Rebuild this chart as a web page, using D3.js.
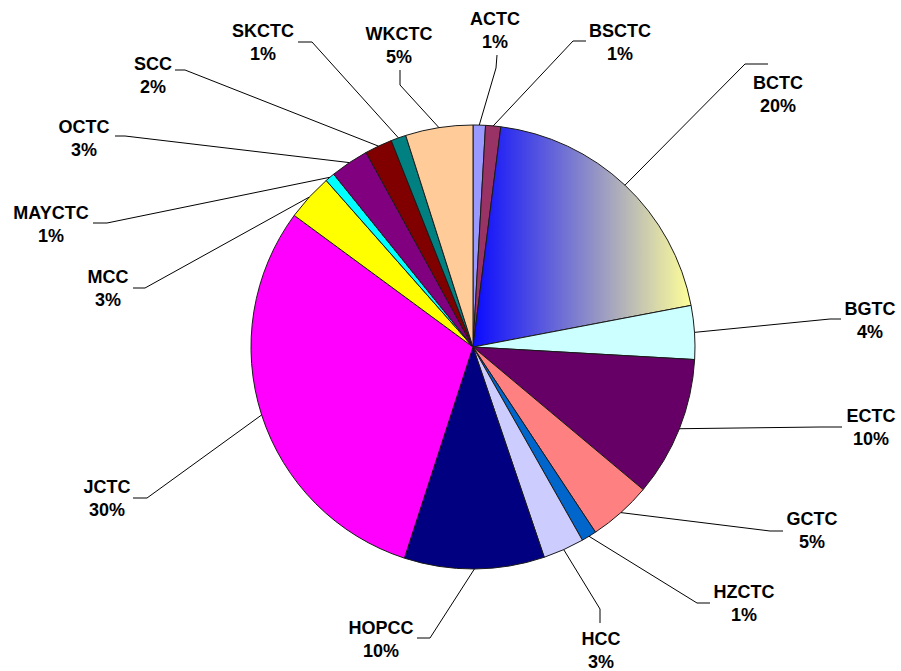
<!DOCTYPE html>
<html>
<head>
<meta charset="utf-8">
<script src="https://cdn.jsdelivr.net/npm/d3@7"></script>
<style>
  body { margin: 0; background: #fff; }
  text { font-family: "Liberation Sans", Arial, sans-serif; font-weight: bold; font-size: 18px; fill: #000; }
</style>
</head>
<body>
<script>
// slice names, clockwise from 12 o'clock
var names = ["ACTC","BSCTC","BCTC","BGTC","ECTC","GCTC","HZCTC","HCC","HOPCC","JCTC","MCC","MAYCTC","OCTC","SCC","SKCTC","WKCTC"];
// share of total (%)
var values = [0.9, 1.1, 20.0, 3.9, 10.2, 4.6, 1.1, 3.0, 10.2, 30.1, 3.4, 0.7, 2.8, 2.0, 1.1, 4.9];
var colors = ["#9999ff","#993366","url(#bctcGrad)","#ccffff","#660066","#ff8080","#0066cc","#ccccff","#000080","#ff00ff","#ffff00","#00ffff","#800080","#800000","#008080","#ffcc99"];

// label placement: [text x, first baseline y, elbow x, elbow y, end x, end y]
var labelLayout = [
  [495, 25, 496, 68, 497, 55],
  [620, 37, 573, 41, 586, 41],
  [778, 89, 745, 64, 768, 64],
  [870, 315, 830, 319, 841, 319],
  [871, 422, 820, 427, 842, 427],
  [812, 525, 770, 531, 783, 531],
  [744, 598, 697, 603, 710, 603],
  [601, 645, 600, 609, 600, 623],
  [381, 634, 430, 638, 417, 638],
  [107, 493, 147, 498, 133, 498],
  [108, 283, 145, 288, 133, 288],
  [51, 219, 107, 223, 93, 223],
  [84, 133, 125, 136, 115, 136],
  [153, 70, 185, 70, 175, 70],
  [263, 37, 312, 42, 298, 42],
  [399, 40, 400, 85, 400, 70]
];

var w = 901, h = 671;
var cx = 473, cy = 347, radius = 222;

var svg = d3.select("body").append("svg")
  .attr("width", w)
  .attr("height", h);

var grad = svg.append("defs").append("linearGradient")
  .attr("id", "bctcGrad")
  .attr("x1", "0").attr("y1", "0")
  .attr("x2", "1").attr("y2", "0");
grad.append("stop").attr("offset", "0%").attr("stop-color", "#0a0aff");
grad.append("stop").attr("offset", "100%").attr("stop-color", "#ffff99");

var pie = d3.pie().sort(null).value(function(d){ return d; });
var arc = d3.arc().innerRadius(0).outerRadius(radius);
var arcs = pie(values);

var g = svg.append("g").attr("transform", "translate(" + cx + "," + cy + ")");

g.selectAll("path.slice")
  .data(arcs)
  .enter().append("path")
  .attr("class", "slice")
  .attr("d", arc)
  .attr("fill", function(d, i){ return colors[i]; })
  .attr("stroke", "#1a1a1a")
  .attr("stroke-width", 1);

// leader lines
svg.selectAll("polyline.leader")
  .data(arcs)
  .enter().append("polyline")
  .attr("class", "leader")
  .attr("fill", "none")
  .attr("stroke", "#000")
  .attr("stroke-width", 1)
  .attr("points", function(d, i){
    var a = (d.startAngle + d.endAngle) / 2;
    var ax = cx + radius * Math.sin(a), ay = cy - radius * Math.cos(a);
    var L = labelLayout[i];
    return [[ax, ay], [L[2], L[3]], [L[4], L[5]]].map(function(p){ return p.join(","); }).join(" ");
  });

// labels
var total = d3.sum(values);
var lab = svg.selectAll("text.lab")
  .data(arcs)
  .enter().append("text")
  .attr("class", "lab")
  .attr("text-anchor", "middle");
lab.append("tspan")
  .attr("x", function(d, i){ return labelLayout[i][0]; })
  .attr("y", function(d, i){ return labelLayout[i][1]; })
  .text(function(d, i){ return names[i]; });
lab.append("tspan")
  .attr("x", function(d, i){ return labelLayout[i][0]; })
  .attr("y", function(d, i){ return labelLayout[i][1] + 23; })
  .text(function(d){ return Math.round(d.value / total * 100) + "%"; });
</script>
</body>
</html>
